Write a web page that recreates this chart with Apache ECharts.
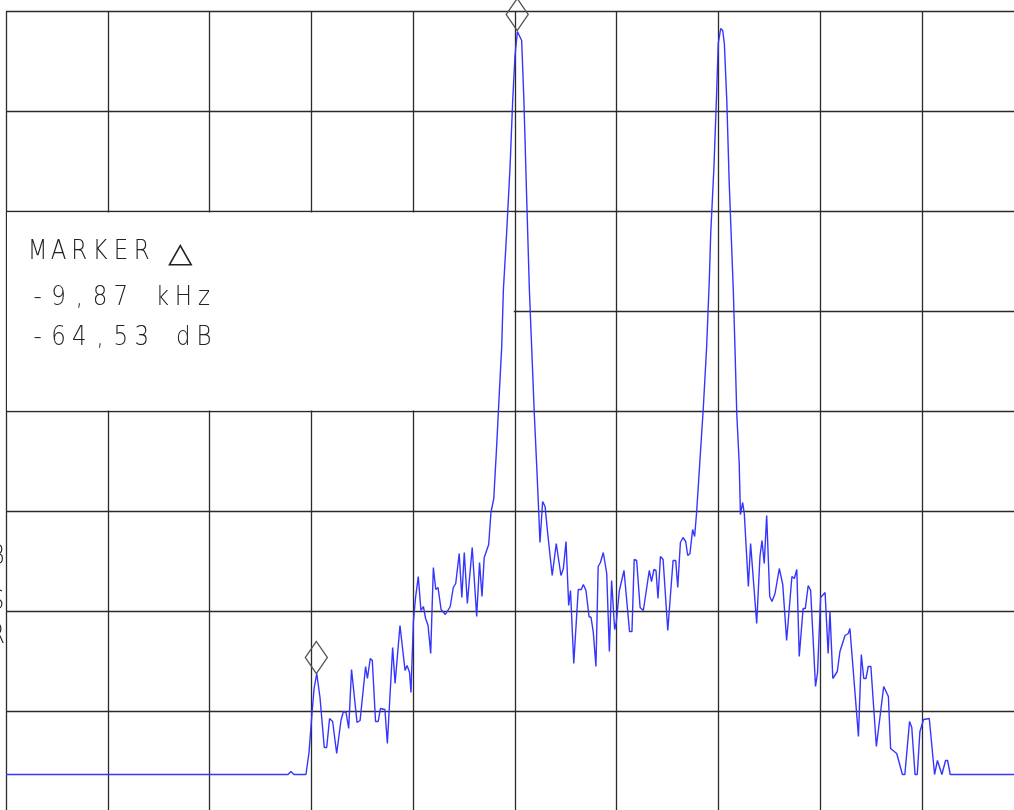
<!DOCTYPE html>
<html><head><meta charset="utf-8">
<script src="https://cdn.jsdelivr.net/npm/echarts@6/dist/echarts.min.js"></script>
<style>html,body{margin:0;padding:0;background:#fff;overflow:hidden;width:1014px;height:810px}#c{width:1026px;height:814px}</style>
</head><body><div id="c"></div>
<script>
// frequency offset (kHz), level (dB)
const trace = [
[-25.00,-76.3],[-11.14,-76.3],[-11.00,-76.0],[-10.85,-76.3],[-10.26,-76.3],[-10.11,-74.1],[-9.96,-70.1],[-9.86,-67.7],[-9.73,-66.2],[-9.57,-68.6],
[-9.36,-73.6],[-9.24,-73.6],[-9.10,-70.7],[-8.95,-71.0],[-8.75,-74.2],[-8.54,-70.9],[-8.42,-70.0],[-8.29,-70.1],[-8.16,-71.7],[-8.02,-65.8],
[-7.75,-71.1],[-7.60,-70.9],[-7.33,-65.5],[-7.24,-66.7],[-7.10,-64.7],[-7.00,-64.9],[-6.84,-71.0],[-6.71,-71.0],[-6.60,-69.7],[-6.38,-69.8],
[-6.26,-73.2],[-6.00,-63.6],[-5.88,-67.2],[-5.64,-61.4],[-5.57,-61.6],[-5.39,-65.9],[-5.29,-65.4],[-5.17,-66.1],[-5.10,-68.1],[-4.98,-61.0],
[-4.88,-58.7],[-4.74,-56.5],[-4.61,-59.9],[-4.49,-59.5],[-4.38,-60.7],[-4.26,-61.4],[-4.13,-64.2],[-4.00,-55.6],[-3.88,-57.8],[-3.77,-57.6],
[-3.62,-59.8],[-3.41,-60.3],[-3.17,-59.5],[-3.02,-57.6],[-2.90,-57.2],[-2.73,-54.2],[-2.60,-58.6],[-2.48,-54.1],[-2.33,-59.2],[-2.25,-59.1],
[-2.09,-53.6],[-1.87,-60.5],[-1.73,-55.1],[-1.61,-58.5],[-1.50,-54.6],[-1.28,-53.3],[-1.17,-50.1],[-1.03,-48.7],[-0.89,-43.5],[-0.76,-38.2],
[-0.64,-33.5],[-0.56,-27.9],[-0.40,-22.2],[-0.23,-15.5],[-0.10,-8.9],[0.01,-4.5],[0.13,-2.0],[0.22,-1.9],[0.34,-2.9],[0.45,-8.9],
[0.59,-18.9],[0.72,-27.9],[0.83,-33.5],[0.96,-40.2],[1.08,-45.5],[1.16,-49.2],[1.24,-53.1],[1.37,-49.0],[1.49,-49.5],[1.63,-52.4],
[1.84,-56.4],[2.04,-53.2],[2.27,-56.4],[2.39,-55.7],[2.52,-53.0],[2.65,-59.4],[2.74,-57.9],[2.90,-65.2],[3.12,-57.8],[3.27,-57.8],
[3.37,-57.3],[3.50,-57.9],[3.65,-60.5],[3.75,-60.6],[3.86,-62.1],[3.99,-65.5],[4.10,-55.5],[4.21,-55.1],[4.35,-54.1],[4.52,-56.2],
[4.65,-64.0],[4.76,-56.9],[4.91,-61.8],[4.99,-61.1],[5.14,-57.9],[5.37,-55.9],[5.64,-62.0],[5.76,-62.0],[5.87,-54.8],[5.99,-54.9],
[6.16,-59.6],[6.32,-59.9],[6.61,-55.9],[6.72,-57.0],[6.84,-55.8],[6.94,-55.9],[7.04,-58.7],[7.16,-54.5],[7.29,-54.8],[7.52,-61.9],
[7.78,-54.9],[7.91,-54.9],[8.01,-57.6],[8.14,-53.1],[8.27,-52.6],[8.40,-53.0],[8.50,-54.4],[8.61,-54.2],[8.74,-51.8],[8.84,-52.5],
[8.94,-50.0],[9.10,-44.9],[9.27,-39.5],[9.43,-33.5],[9.56,-26.9],[9.63,-22.2],[9.79,-15.5],[9.92,-8.2],[10.00,-3.2],[10.12,-1.7],
[10.22,-1.9],[10.30,-3.2],[10.42,-8.9],[10.54,-17.2],[10.74,-27.9],[10.82,-33.5],[10.91,-40.2],[11.03,-45.2],[11.09,-50.3],[11.20,-49.1],
[11.28,-50.2],[11.48,-57.5],[11.59,-53.2],[11.89,-61.2],[12.05,-54.5],[12.15,-52.9],[12.26,-55.2],[12.38,-50.4],[12.53,-58.5],[12.64,-59.0],
[12.79,-58.2],[13.00,-55.7],[13.17,-57.3],[13.36,-62.9],[13.62,-56.5],[13.74,-56.7],[13.86,-55.8],[13.98,-64.5],[14.17,-59.7],[14.28,-59.7],
[14.42,-57.4],[14.54,-57.9],[14.78,-67.5],[14.88,-66.1],[15.03,-58.6],[15.25,-58.1],[15.40,-64.2],[15.49,-60.0],[15.63,-66.7],[15.85,-66.0],
[15.98,-64.0],[16.23,-62.4],[16.39,-62.2],[16.47,-61.7],[16.89,-72.5],[17.03,-64.3],[17.15,-66.7],[17.26,-66.7],[17.37,-65.5],[17.50,-65.5],
[17.77,-73.5],[18.13,-67.5],[18.36,-68.5],[18.47,-73.7],[18.77,-74.2],[19.05,-76.3],[19.17,-76.3],[19.40,-71.0],[19.51,-71.6],[19.67,-76.3],
[19.78,-76.3],[19.91,-72.0],[19.99,-72.0],[20.09,-70.8],[20.37,-70.7],[20.63,-76.3],[20.77,-74.9],[20.86,-75.0],[20.99,-76.3],[21.17,-74.9],
[21.27,-74.9],[21.40,-76.3],[25.00,-76.3]
];
const markerFreqs = [0.12, -9.75];
const markerLevels = [-1.9, -66.2];
const readoutLines = ['MARKER △', '-9,87 kHz', '-64,53 dB'];
const edgeChars = ['B', 'S', 'R'];

const chart = echarts.init(document.getElementById('c'), null, {renderer: 'canvas'});
const gridLine = {show: true, lineStyle: {color: '#2b2b2b', width: 1.3}};
chart.setOption({
  animation: false,
  backgroundColor: '#ffffff',
  grid: {left: 6, top: 11.5, width: 1017.5, height: 800},
  xAxis: {type: 'value', min: -25, max: 25, interval: 5,
    axisLine: {show: false}, axisTick: {show: false}, axisLabel: {show: false}, splitLine: gridLine},
  yAxis: {type: 'value', min: -80, max: 0, interval: 10,
    axisLine: {show: false}, axisTick: {show: false}, axisLabel: {show: false}, splitLine: gridLine},
  series: [{
    type: 'line', data: trace, symbol: 'none', showSymbol: false, z: 3,
    lineStyle: {color: '#3535ff', width: 1.4},
    markPoint: {
      symbol: 'diamond', symbolSize: [22, 32], symbolOffset: [0, '-50%'],
      itemStyle: {color: 'rgba(0,0,0,0)', borderColor: '#555', borderWidth: 1.4},
      label: {show: false},
      data: markerFreqs.map((f, i) => ({coord: [f, markerLevels[i]]}))
    }
  }]
});

const a = chart.convertToPixel({gridIndex: 0}, [-25, -20]);
const b = chart.convertToPixel({gridIndex: 0}, [0, -40]);
const elements = [{
  type: 'rect', z: 1,
  shape: {x: a[0] + 1, y: a[1] + 1, width: b[0] - a[0] - 2, height: b[1] - a[1] - 2},
  style: {fill: '#ffffff'}
}];
const lineY = [251.7, 297.8, 337.5];
const pitch = 20.8;
const textFont = '200 27px "DejaVu Sans"';
readoutLines.forEach((s, li) => {
  Array.from(s).forEach((ch, i) => {
    if (ch === ' ') return;
    const tri = ch === '△';
    elements.push({
      type: 'text', z: 4, x: 37.7 + i * pitch + (tri ? -3 : 0), y: lineY[li] + (tri ? 3 : 0),
      scaleX: tri ? 1.2 : 0.85, scaleY: tri ? 1.05 : 1,
      style: {text: ch, fill: '#222', font: textFont, align: 'center', verticalAlign: 'middle'}
    });
  });
});
const edgeY = [557, 602, 636];
edgeChars.forEach((ch, i) => {
  elements.push({type: 'text', z: 4, x: -3, y: edgeY[i], scaleX: 0.85,
    style: {text: ch, fill: '#222', font: textFont, align: 'center', verticalAlign: 'middle'}});
});
chart.setOption({graphic: {elements: elements}});
</script></body></html>
